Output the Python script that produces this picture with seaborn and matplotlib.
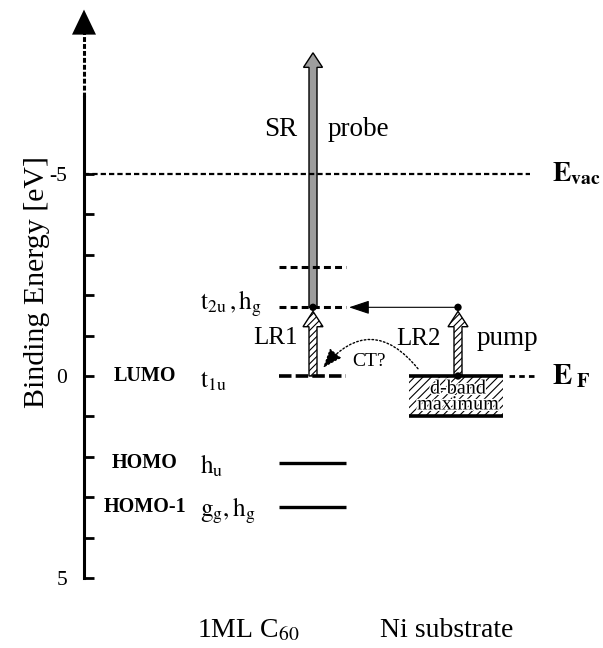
import matplotlib
matplotlib.use("Agg")
import matplotlib.pyplot as plt
import seaborn as sns
import pandas as pd
from matplotlib.patches import FancyArrow
import matplotlib.patheffects as pe

# ---------------- data (energies in eV, binding energy; negative = above E_F) ----
E_VAC = -5.0
E_FERMI = 0.0
c60_energy = [-2.7, -1.7, 0.0, 2.15, 3.25]
c60_symmetry = ["", r"$\mathrm{t_{2u}\,,h_g}$", r"$\mathrm{t_{1u}}$", r"$\mathrm{h_u}$", r"$\mathrm{g_g,h_g}$"]
c60_name = ["", "", "LUMO", "HOMO", "HOMO-1"]
c60_occupied = [False, False, False, True, True]
dband_top = 0.0
dband_bottom = 1.0
probe_top = -8.0
pump_final = -1.7
axis_top = -6.9
ytick_major = [-5, 0, 5]
ytick_minor = [-4, -3, -2, -1, 1, 2, 3, 4]
column_labels = [r"1ML C$_{60}$", "Ni substrate"]

# ---------------- style ----------------
sns.set_style("white")
plt.rcParams["font.family"] = ["Liberation Serif", "DejaVu Serif"]
plt.rcParams["mathtext.fontset"] = "stix"
plt.rcParams["axes.unicode_minus"] = False
plt.rcParams["lines.scale_dashes"] = False
plt.rcParams["hatch.linewidth"] = 0.8
for k in ["text.color", "axes.labelcolor", "xtick.color", "ytick.color", "axes.edgecolor"]:
    plt.rcParams[k] = "black"

fig = plt.figure(figsize=(6.03, 6.48), dpi=100)
ax = fig.add_axes([0, 0, 1, 1])
ax.set_xlim(0, 603)
ax.set_ylim(6.733, -9.307)
ax.patch.set_alpha(0)

# layout (horizontal positions, in figure pixels)
AX_X = 84
C60_X0, C60_X1, C60_XC = 279, 346, 313
NI_X0, NI_X1, NI_XC = 409, 503, 458

# ---------------- axis ----------------
for s in ["top", "right", "bottom"]:
    ax.spines[s].set_visible(False)
ax.spines["left"].set_position(("data", AX_X))
ax.spines["left"].set_bounds(axis_top, 5)
ax.spines["left"].set_linewidth(2.2)
ax.set_xticks([])
ax.set_yticks(ytick_major)
ax.set_yticks(ytick_minor, minor=True)
ax.set_yticklabels([str(v) for v in ytick_major])
ax.tick_params(axis="y", which="both", direction="in", left=True, width=2,
               length=7, pad=12, labelsize=15.5)
ax.set_ylabel("Binding Energy [eV]", fontsize=21.5, va="center")
ax.yaxis.set_label_coords(37 / 603, 1 - 282 / 648)

# dashed continuation + arrow head of the energy axis
ax.plot([AX_X, AX_X], [axis_top, -8.5], color="black", lw=2.2, dashes=(3.5, 1.5))
ax.add_patch(FancyArrow(AX_X, -8.45, 0, -0.62, width=0.01, head_width=24,
                        head_length=0.62, length_includes_head=True,
                        color="black", lw=0))

# ---------------- vacuum level ----------------
ax.plot([AX_X, 530], [E_VAC, E_VAC], color="black", lw=1.6, dashes=(3.8, 2.2))
ax.text(552, E_VAC, r"$\mathbf{E_{vac}}$", fontsize=20, ha="left", va="center")

# ---------------- C60 levels ----------------
for e, occ in zip(c60_energy, c60_occupied):
    if occ:
        ax.plot([C60_X0, C60_X1], [e, e], color="black", lw=2.4, solid_capstyle="butt")
    elif e == 0.0:
        ax.plot([C60_X0, C60_X1], [e, e], color="black", lw=2.6, dashes=(9, 3))
    else:
        ax.plot([C60_X0, C60_X1], [e, e], color="black", lw=2.2, dashes=(5, 3))

sym_offset = [0, 0.05, 0.27, 0.25, 0.22]
for e, sym, off in zip(c60_energy, c60_symmetry, sym_offset):
    if sym:
        ax.text(200, e + off, sym, fontsize=18, ha="left", va="baseline")
for e, name in zip(c60_energy, c60_name):
    if name:
        ax.text(145, e, name, fontsize=14.5, fontweight="bold", ha="center", va="center")

# ---------------- Ni substrate ----------------
ax.fill_between([NI_X0, NI_X1], [dband_top, dband_top], [dband_bottom, dband_bottom],
                facecolor="white", edgecolor="black", hatch="////", linewidth=0)
ax.plot([NI_X0, NI_X1], [E_FERMI, E_FERMI], color="black", lw=2.6, solid_capstyle="butt")
ax.plot([NI_X1 + 6, 537], [E_FERMI, E_FERMI], color="black", lw=2.0, dashes=(4, 3))
ax.plot([NI_X1 + 0, NI_X0], [dband_bottom, dband_bottom], color="black", lw=2.6, solid_capstyle="butt")
halo = [pe.withStroke(linewidth=2, foreground="white")]
ax.text(NI_XC, (dband_top + dband_bottom) / 2 + 0.02, "d-band\nmaximum", fontsize=14.5,
        ha="center", va="center", linespacing=0.78, path_effects=halo)
ax.text(552, E_FERMI, r"$\mathbf{E}_{\ \mathbf{F}}$", fontsize=21, ha="left", va="center")

# ---------------- arrows ----------------
# SR probe
ax.add_patch(FancyArrow(C60_XC, pump_final, 0, probe_top - pump_final, width=8,
                        head_width=19, head_length=0.36, length_includes_head=True,
                        facecolor="#9d9d9d", edgecolor="black", lw=1))
# LR1 (C60 LUMO -> t2u)
ax.add_patch(FancyArrow(C60_XC, E_FERMI, 0, pump_final + 0.1 - E_FERMI, width=8,
                        head_width=20, head_length=0.38, length_includes_head=True,
                        facecolor="white", edgecolor="black", hatch="/////", lw=1))
# LR2 pump (Ni)
ax.add_patch(FancyArrow(NI_XC, E_FERMI, 0, pump_final + 0.1 - E_FERMI, width=8,
                        head_width=20, head_length=0.38, length_includes_head=True,
                        facecolor="white", edgecolor="black", hatch="/////", lw=1))

dots = pd.DataFrame({"x": [C60_XC, NI_XC, NI_XC], "E": [pump_final, pump_final, E_FERMI]})
sns.scatterplot(data=dots, x="x", y="E", ax=ax, color="black", s=28, edgecolor="none",
                zorder=5, legend=False)

# electron transfer to C60 t2u
ax.annotate("", xy=(C60_X1 + 3, pump_final), xytext=(NI_XC, pump_final),
            arrowprops=dict(arrowstyle="-|>,head_length=0.9,head_width=0.3",
                            color="black", lw=0.8, mutation_scale=14, shrinkA=0, shrinkB=0))
# CT? curved arrow
ax.annotate("", xy=(323, -0.2), xytext=(418, -0.18),
            arrowprops=dict(arrowstyle="-|>,head_length=0.8,head_width=0.3",
                            connectionstyle="arc3,rad=0.6", color="black", lw=1.0,
                            linestyle=(0, (1.2, 1.6)), mutation_scale=15,
                            shrinkA=0, shrinkB=0))
ax.text(352, -0.35, "CT?", fontsize=14, ha="left", va="center")

# ---------------- text labels ----------------
ax.text(281, -6.09, "SR", fontsize=19.5, ha="center", va="center")
ax.text(358, -6.09, "probe", fontsize=19.5, ha="center", va="center")
ax.text(275, -0.94, "LR1", fontsize=18, ha="center", va="center")
ax.text(418, -0.92, "LR2", fontsize=18, ha="center", va="center")
ax.text(507, -0.92, "pump", fontsize=19.5, ha="center", va="center")

ax.text(248, 6.3, column_labels[0], fontsize=20, ha="center", va="center")
ax.text(447, 6.3, column_labels[1], fontsize=20, ha="center", va="center")

fig.savefig("out.png", dpi=100)
